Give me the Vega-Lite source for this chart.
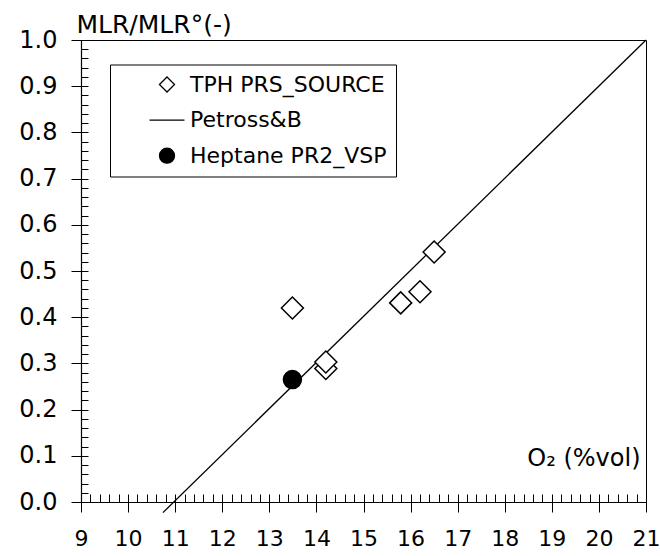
{
  "$schema": "https://vega.github.io/schema/vega-lite/v6.json",
  "width": 565,
  "height": 462,
  "autosize": {"type": "none"},
  "padding": {"left": 81, "top": 40, "right": 14, "bottom": 54},
  "background": "white",
  "config": {
    "font": "DejaVu Sans",
    "view": {"stroke": "black", "strokeWidth": 1},
    "axis": {"labelFont": "DejaVu Sans", "titleFont": "DejaVu Sans", "labelColor": "black", "titleColor": "black", "tickColor": "black", "domainColor": "black", "grid": false, "labelOverlap": false, "labelFlush": false},
    "legend": {"labelFont": "DejaVu Sans"}
  },
  "datasets": {
    "pts": [
      {"o2": 13.49, "mlr": 0.42, "series": "TPH PRS_SOURCE"},
      {"o2": 14.2, "mlr": 0.289, "series": "TPH PRS_SOURCE"},
      {"o2": 14.2, "mlr": 0.303, "series": "TPH PRS_SOURCE"},
      {"o2": 15.79, "mlr": 0.431, "series": "TPH PRS_SOURCE"},
      {"o2": 16.2, "mlr": 0.455, "series": "TPH PRS_SOURCE"},
      {"o2": 16.5, "mlr": 0.541, "series": "TPH PRS_SOURCE"},
      {"o2": 13.49, "mlr": 0.265, "series": "Heptane PR2_VSP"}
    ],
    "petross": [
      {"o2": 10.74, "mlr": -0.023, "series": "Petross&B"},
      {"o2": 21, "mlr": 1.0, "series": "Petross&B"}
    ]
  },
  "layer": [
    {
      "data": {"name": "petross"},
      "mark": {"type": "line", "color": "black", "strokeWidth": 1.3, "clip": false},
      "encoding": {
        "x": {"field": "o2", "type": "quantitative", "scale": {"domain": [9, 21], "nice": false, "zero": false},
          "axis": {"orient": "bottom", "values": [9,10,11,12,13,14,15,16,17,18,19,20,21], "tickSize": 10, "labelFontSize": 22, "labelPadding": 16, "domainWidth": 1.2,
            "title": "O₂ (%vol)", "titleFontSize": 24, "titleFontWeight": "normal", "titleAlign": "right", "titleAnchor": null, "titleBaseline": "alphabetic", "titleX": 559, "titleY": -37}},
        "y": {"field": "mlr", "type": "quantitative", "scale": {"domain": [0, 1], "nice": false, "zero": false},
          "axis": {"orient": "left", "values": [0,0.1,0.2,0.3,0.4,0.5,0.6,0.7,0.8,0.9,1.0], "format": ".1f", "tickSize": 10, "labelFontSize": 24, "labelPadding": 14, "domainWidth": 1.2,
            "title": "MLR/MLR°(-)", "titleFontSize": 25, "titleFontWeight": "normal", "titleAngle": 0, "titleAlign": "left", "titleAnchor": null, "titleBaseline": "alphabetic", "titleX": -5, "titleY": -8}}
      }
    },
    {
      "data": {"name": "pts"},
      "mark": {"type": "point", "filled": true, "strokeWidth": 1.5, "opacity": 1},
      "encoding": {
        "x": {"field": "o2", "type": "quantitative",
          "axis": {"orient": "bottom", "tickCount": 60, "tickSize": -8, "labels": false, "domain": false, "title": null}},
        "y": {"field": "mlr", "type": "quantitative",
          "axis": {"orient": "left", "tickCount": 50, "tickSize": -7, "labels": false, "domain": false, "title": null}},
        "shape": {"field": "series", "type": "nominal",
          "scale": {"domain": ["TPH PRS_SOURCE", "Petross&B", "Heptane PR2_VSP"], "range": ["diamond", "M-2.33,0L2.33,0", "circle"]},
          "legend": {"orient": "none", "legendX": 29, "legendY": 24.5, "title": null, "strokeColor": "black", "fillColor": "white", "padding": 9,
            "labelFontSize": 22, "labelColor": "black", "labelLimit": 500, "symbolSize": 225, "symbolStrokeWidth": 1.3, "rowPadding": 13.6, "labelOffset": 12, "symbolOffset": 37}},
        "fill": {"field": "series", "type": "nominal",
          "scale": {"domain": ["TPH PRS_SOURCE", "Petross&B", "Heptane PR2_VSP"], "range": ["white", "black", "black"]},
          "legend": {"orient": "none", "legendX": 29, "legendY": 24.5, "title": null, "strokeColor": "black", "fillColor": "white", "padding": 9,
            "labelFontSize": 22, "labelColor": "black", "labelLimit": 500, "symbolSize": 225, "symbolStrokeWidth": 1.3, "rowPadding": 13.6, "labelOffset": 12, "symbolOffset": 37}},
        "stroke": {"field": "series", "type": "nominal",
          "scale": {"domain": ["TPH PRS_SOURCE", "Petross&B", "Heptane PR2_VSP"], "range": ["black", "black", "black"]},
          "legend": {"orient": "none", "legendX": 29, "legendY": 24.5, "title": null, "strokeColor": "black", "fillColor": "white", "padding": 9,
            "labelFontSize": 22, "labelColor": "black", "labelLimit": 500, "symbolSize": 225, "symbolStrokeWidth": 1.3, "rowPadding": 13.6, "labelOffset": 12, "symbolOffset": 37}},
        "size": {"condition": {"test": "datum.series === 'Heptane PR2_VSP'", "value": 324}, "value": 484}
      }
    }
  ],
  "resolve": {"axis": {"x": "independent", "y": "independent"}}
}
